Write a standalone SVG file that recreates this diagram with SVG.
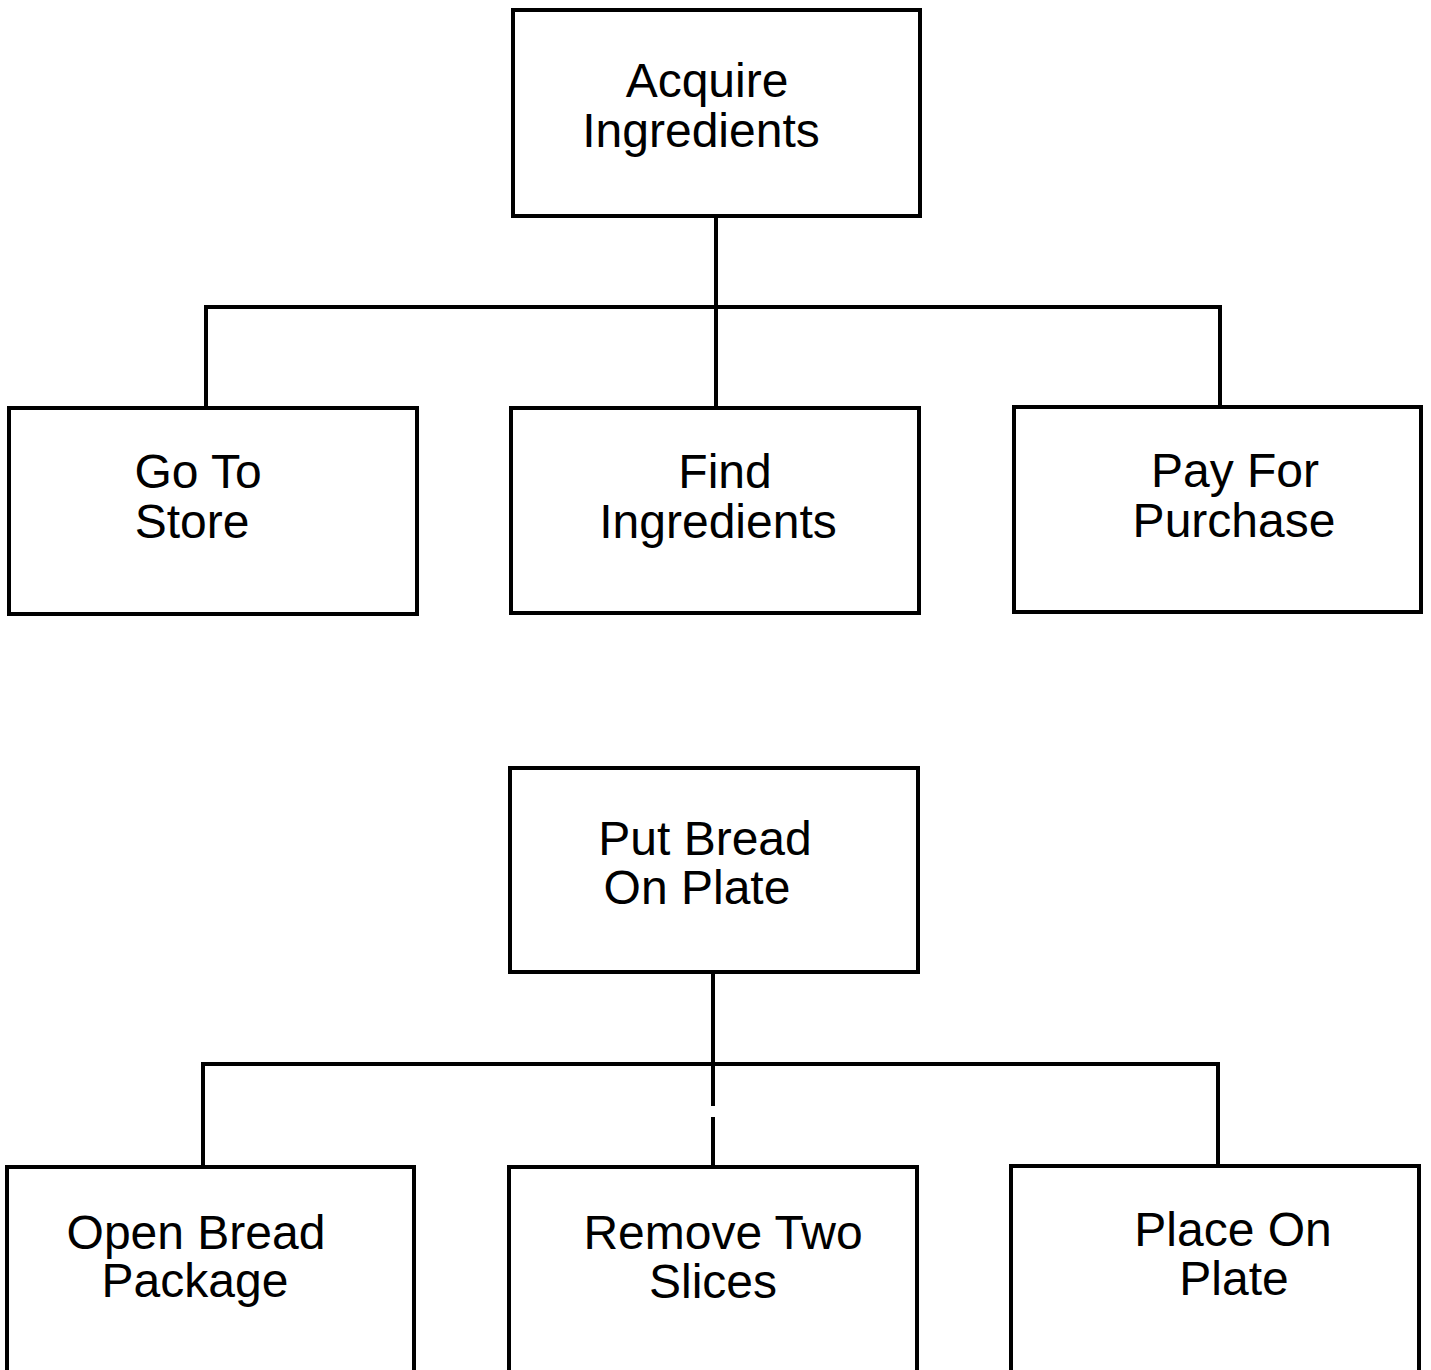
<svg xmlns="http://www.w3.org/2000/svg" width="1431" height="1370" viewBox="0 0 1431 1370">
<style>
.box{fill:none;stroke:#000;stroke-width:4}
.ln{fill:none;stroke:#000;stroke-width:4;stroke-linecap:square}
.t{font-family:"Liberation Sans",Arial,sans-serif;font-size:48px;fill:#000;text-anchor:middle}
</style>
<rect width="1431" height="1370" fill="#fff"/>
<g id="connectors">
<path class="ln" d="M716 216V307M206 307H1220M206 307V408M716 307V408M1220 307V407"/>
<path class="ln" d="M713 972V1064M203 1064H1218M203 1064V1167M713 1064V1104M713 1119V1167M1218 1064V1166"/>
</g>
<g id="acquire"><rect class="box" x="513" y="10" width="407" height="206"/><text class="t" x="707" y="97">Acquire</text><text class="t" x="701" y="147">Ingredients</text></g>
<g id="gotostore"><rect class="box" x="9" y="408" width="408" height="206"/><text class="t" x="198" y="488">Go To</text><text class="t" x="192" y="538">Store</text></g>
<g id="find"><rect class="box" x="511" y="408" width="408" height="205"/><text class="t" x="725" y="488">Find</text><text class="t" x="718" y="538">Ingredients</text></g>
<g id="pay"><rect class="box" x="1014" y="407" width="407" height="205"/><text class="t" x="1235" y="487">Pay For</text><text class="t" x="1234" y="537">Purchase</text></g>
<g id="putbread"><rect class="box" x="510" y="768" width="408" height="204"/><text class="t" x="705" y="855">Put Bread</text><text class="t" x="697" y="904">On Plate</text></g>
<g id="openbread"><rect class="box" x="7" y="1167" width="407" height="260"/><text class="t" x="196" y="1249">Open Bread</text><text class="t" x="195" y="1297">Package</text></g>
<g id="remove"><rect class="box" x="509" y="1167" width="408" height="260"/><text class="t" x="723" y="1249">Remove Two</text><text class="t" x="713" y="1298">Slices</text></g>
<g id="place"><rect class="box" x="1011" y="1166" width="408" height="260"/><text class="t" x="1233" y="1246">Place On</text><text class="t" x="1234" y="1295">Plate</text></g>
</svg>
